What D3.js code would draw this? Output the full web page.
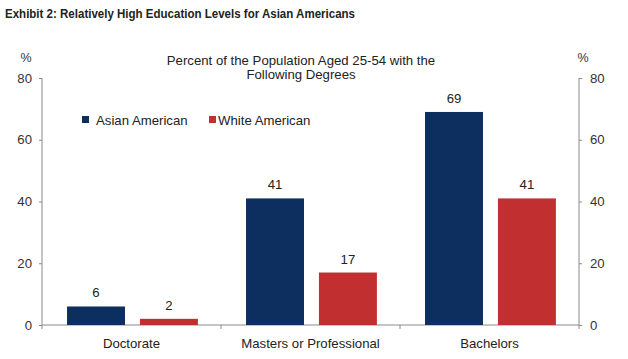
<!DOCTYPE html>
<html><head><meta charset="utf-8">
<script src="https://cdn.jsdelivr.net/npm/d3@7"></script>
<style>body{margin:0;background:#fff}svg{display:block}</style>
</head><body>
<svg id="c" width="628" height="359"></svg>
<script>
const categories = ["Doctorate", "Masters or Professional", "Bachelors"];
const seriesNames = ["Asian American", "White American"];
const asianValues = [6, 41, 69];
const whiteValues = [2, 17, 41];
const yTicks = [0, 20, 40, 60, 80];
const colors = ["#0c2f5f", "#c22f30"];

(function () {
const svg = d3.select("#c");
const font = "Liberation Sans, Arial, sans-serif";
const fs = 13.2;
const pL = 42, pR = 579, pT = 78, pB = 325;

const x = d3.scaleBand().domain(categories).range([pL, pR]).paddingInner(0).paddingOuter(0);
const xs = d3.scaleBand().domain(seriesNames).range([0, x.bandwidth()]).paddingInner(0.205).paddingOuter(0.33).align(0.52);
const y = d3.scaleLinear().domain([0, 80]).range([pB, pT]);

svg.append("text").attr("x", 5).attr("y", 17.5)
  .attr("font-family", font)
  .attr("font-weight", "bold").attr("font-size", 13.5).attr("fill", "#222")
  .attr("textLength", 350).attr("lengthAdjust", "spacingAndGlyphs")
  .text("Exhibit 2: Relatively High Education Levels for Asian Americans");

const sub = svg.append("text").attr("text-anchor", "middle").attr("font-family", font)
  .attr("font-size", fs).attr("fill", "#222");
sub.append("tspan").attr("x", 301).attr("y", 65).text("Percent of the Population Aged 25-54 with the");
sub.append("tspan").attr("x", 301).attr("y", 79).text("Following Degrees");

svg.append("text").attr("x", 26).attr("y", 62).attr("text-anchor", "middle").attr("font-family", font).attr("font-size", 12.5).attr("fill", "#333").text("%");
svg.append("text").attr("x", 583).attr("y", 62).attr("text-anchor", "middle").attr("font-family", font).attr("font-size", 12.5).attr("fill", "#333").text("%");

const axisColor = "#8a8a8a";
const yl = svg.append("g").attr("transform", `translate(${pL},0)`)
  .call(d3.axisLeft(y).tickValues(yTicks).tickSize(3).tickPadding(7));
const yr = svg.append("g").attr("transform", `translate(${pR},0)`)
  .call(d3.axisRight(y).tickValues(yTicks).tickSize(3).tickPadding(8));
[yl, yr].forEach(g => {
  g.select(".domain").attr("stroke", axisColor).attr("d", `M0,${pT}V${pB}`);
  g.selectAll(".tick line").attr("stroke", axisColor);
  g.selectAll(".tick text").attr("font-family", font).attr("font-size", fs).attr("fill", "#333");
});

const xa = svg.append("g").attr("transform", `translate(0,${pB})`);
xa.append("line").attr("x1", pL).attr("x2", pR).attr("y1", 0).attr("y2", 0).attr("stroke", axisColor);
const bounds = [pL].concat(categories.map(c => x(c) + x.bandwidth()));
xa.selectAll(".bt").data(bounds).enter().append("line")
  .attr("x1", d => d).attr("x2", d => d).attr("y1", 0).attr("y2", 4).attr("stroke", axisColor);
xa.selectAll(".cl").data(categories).enter().append("text")
  .attr("x", d => x(d) + x.bandwidth() / 2).attr("y", 23).attr("text-anchor", "middle")
  .attr("font-family", font).attr("font-size", fs).attr("fill", "#222").text(d => d);

const rows = categories.map((c, i) => ({cat: c, vals: [asianValues[i], whiteValues[i]]}));
const groups = svg.selectAll(".grp").data(rows).enter().append("g")
  .attr("transform", d => `translate(${x(d.cat)},0)`);
groups.selectAll("rect").data(d => d.vals.map((v, j) => ({s: seriesNames[j], v, j}))).enter().append("rect")
  .attr("x", d => xs(d.s)).attr("width", xs.bandwidth())
  .attr("y", d => y(d.v)).attr("height", d => y(0) - y(d.v))
  .attr("fill", d => colors[d.j]);
groups.selectAll(".vl").data(d => d.vals.map((v, j) => ({s: seriesNames[j], v, j}))).enter().append("text")
  .attr("x", d => xs(d.s) + xs.bandwidth() / 2).attr("y", d => y(d.v) - 9)
  .attr("text-anchor", "middle").attr("font-family", font).attr("font-size", fs).attr("fill", "#222")
  .text(d => d.v);

const leg = [{n: seriesNames[0], c: colors[0], x: 82, tx: 96}, {n: seriesNames[1], c: colors[1], x: 209, tx: 218}];
leg.forEach(l => {
  svg.append("rect").attr("x", l.x).attr("y", 116).attr("width", 7).attr("height", 7).attr("fill", l.c);
  svg.append("text").attr("x", l.tx).attr("y", 124.5).attr("font-family", font)
    .attr("font-size", fs).attr("fill", "#222").text(l.n);
});
})();
</script>
</body></html>
